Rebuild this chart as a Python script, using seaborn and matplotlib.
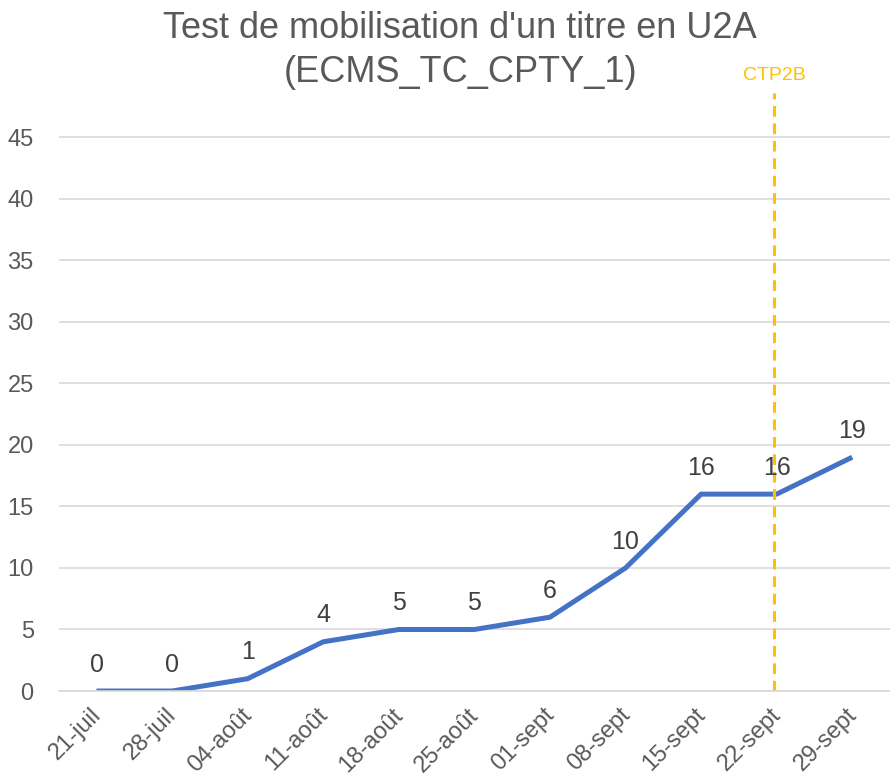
import matplotlib
matplotlib.use("Agg")
import matplotlib.pyplot as plt
import matplotlib.transforms as mtransforms
import seaborn as sns
import pandas as pd

# data
weeks = ["21-juil", "28-juil", "04-août", "11-août", "18-août", "25-août",
         "01-sept", "08-sept", "15-sept", "22-sept", "29-sept"]
counts = [0, 0, 1, 4, 5, 5, 6, 10, 16, 16, 19]
ctp2b_pos = 8.97
y_ticks = [0, 5, 10, 15, 20, 25, 30, 35, 40, 45]

sns.set_style("white")
plt.rcParams['font.family'] = ['Liberation Sans', 'DejaVu Sans']

grey = "#595959"
df = pd.DataFrame({"idx": range(len(weeks)), "Semaine": weeks, "Nb": counts})

fig = plt.figure(figsize=(8.9, 7.78), dpi=100)
ax = fig.add_axes([0.066, 0.1118, 0.934, 0.7687])

sns.lineplot(data=df, x="idx", y="Nb", color="#4472C4", linewidth=3.6, ax=ax,
             solid_capstyle="butt")

for i, v in zip(df.idx, df.Nb):
    ax.annotate(str(v), (i, v), xytext=(0, 14), textcoords="offset points",
                ha="center", va="baseline", fontsize=18, color="#404040")

ax.axvline(ctp2b_pos, color="#FFC000", linewidth=2.2, linestyle=(0, (3.5, 2.2)))
ax.text(ctp2b_pos, 1.015, "CTP2B", transform=ax.get_xaxis_transform(),
        ha="center", va="bottom", fontsize=14, color="#FFC000")

ax.set_xlim(-0.5, 10.4)
ax.set_ylim(0, 48.6)
ax.set_yticks(y_ticks)
ax.yaxis.grid(True, color="#d9d9d9", linewidth=1.2)
ax.set_xticks(range(len(weeks)))
ax.set_xticks([i - 0.5 for i in range(len(weeks) + 1)], minor=True)
ax.set_xticklabels([])
ax.tick_params(axis="x", which="major", length=0)
ax.tick_params(axis="x", which="minor", length=8, color="#d9d9d9", width=1.2)
ax.tick_params(axis="y", length=0, labelsize=17, labelcolor=grey, pad=18)

# x labels drawn by hand so they can sit a little right of the category centre
lab_tr = ax.get_xaxis_transform() + mtransforms.ScaledTranslation(
    9 / 100, -13 / 100, fig.dpi_scale_trans)
for i, w in zip(df.idx, df.Semaine):
    ax.text(i, 0, w, transform=lab_tr, rotation=45, ha="right", va="top",
            fontsize=17, color=grey)

for s in ["top", "right", "left"]:
    ax.spines[s].set_visible(False)
ax.spines["bottom"].set_color("#d9d9d9")
ax.spines["bottom"].set_linewidth(1.2)
ax.set_xlabel("")
ax.set_ylabel("")

fig.text(0.517, 1 - 28 / 778, "Test de mobilisation d'un titre en U2A",
         ha="center", va="center", fontsize=26, color=grey)
fig.text(0.517, 1 - 72 / 778, "(ECMS_TC_CPTY_1)",
         ha="center", va="center", fontsize=26, color=grey)

fig.savefig("out.png", dpi=100)
